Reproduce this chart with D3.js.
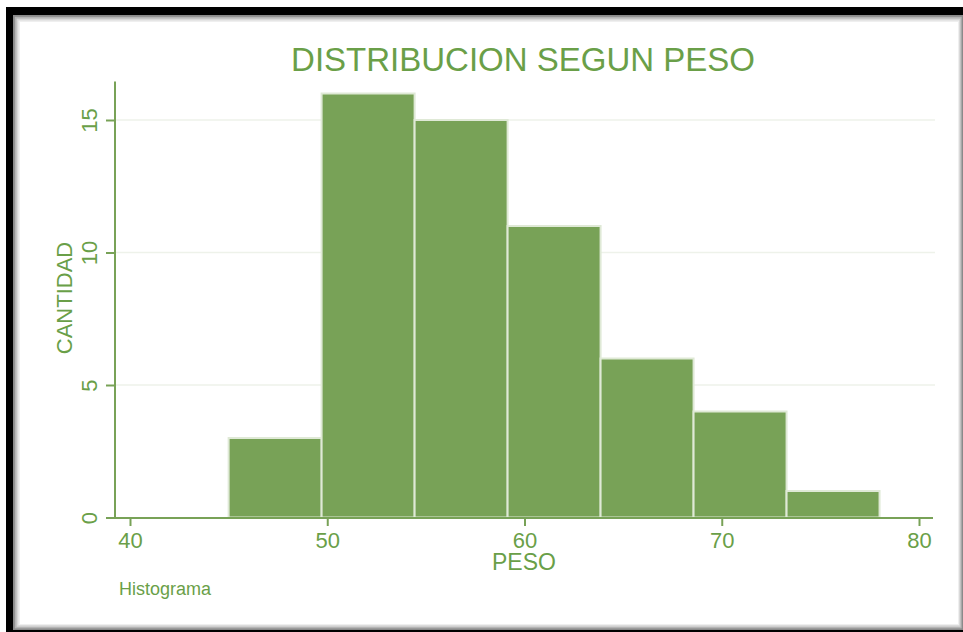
<!DOCTYPE html>
<html>
<head>
<meta charset="utf-8">
<script src="https://cdn.jsdelivr.net/npm/d3@7"></script>
<style>
  body { margin: 0; background: #fff; }
  text { font-family: "Liberation Sans", Arial, sans-serif; }
</style>
</head>
<body>
<script>
// bin edges (min 45, max 78, 7 bins) and counts
var edges = [45, 49.714, 54.429, 59.143, 63.857, 68.571, 73.286, 78]
var counts = [3, 16, 15, 11, 6, 4, 1]
var xTicks = [40, 50, 60, 70, 80]
var yTicks = [0, 5, 10, 15]

const width = 963
const height = 632
const green = "#6a9f48"
const barFill = "#78a257"

var svg = d3.select("body").append("svg").attr("width", width).attr("height", height)

// frame with inner shadow
svg.append("rect").attr("x", 6).attr("y", 7).attr("width", 957).attr("height", 625).attr("fill", "#000")
var shades = ["#8a8a8a", "#b4b4b4", "#d6d6d6", "#efefef"]
shades.forEach(function(c, k) {
    var x0 = 13 + k * 1.8, y0 = 15 + k * 1.8, x1 = 963 - k * 1.3, y1 = 630 - k * 1.6
    svg.append("rect").attr("x", x0).attr("y", y0).attr("width", x1 - x0).attr("height", y1 - y0).attr("fill", c)
})
svg.append("rect").attr("x", 20).attr("y", 22).attr("width", 938).attr("height", 602).attr("fill", "#fff")

var xScale = d3.scaleLinear().domain([40, 80]).range([130, 919])
var yScale = d3.scaleLinear().domain([0, 15]).range([517.5, 120])

var left = xScale.invert(115)
var right = xScale.invert(933)

// gridlines
svg.append("g").selectAll("line").data(yTicks.filter(d => d > 0)).enter().append("line")
    .attr("x1", 115).attr("x2", 935)
    .attr("y1", d => yScale(d)).attr("y2", d => yScale(d))
    .attr("stroke", "#eef2ea").attr("stroke-width", 1.5)

// bars
svg.append("g").selectAll("rect").data(counts).enter().append("rect")
    .attr("x", (d, i) => xScale(edges[i]))
    .attr("width", (d, i) => xScale(edges[i + 1]) - xScale(edges[i]))
    .attr("y", d => yScale(d))
    .attr("height", d => yScale(0) - yScale(d))
    .attr("fill", barFill)
    .attr("stroke", "#dfe9d6")
    .attr("stroke-width", 2)

// y axis
var yAxis = svg.append("g").attr("transform", "translate(115,0)")
    .call(d3.axisLeft(yScale).tickValues(yTicks).tickSize(9).tickSizeOuter(0))
yAxis.select(".domain").attr("d", "M0," + yScale(16.45) + "V" + yScale(0))
yAxis.selectAll("line, path").attr("stroke", barFill).attr("stroke-width", 2)
yAxis.selectAll("text")
    .attr("fill", green).attr("font-size", 22)
    .attr("text-anchor", "middle")
    .attr("x", 0).attr("y", 0).attr("dy", 0)
    .attr("transform", "translate(-18,0) rotate(-90)")

// x axis
var xAxis = svg.append("g").attr("transform", "translate(0,518)")
    .call(d3.axisBottom(xScale).tickValues(xTicks).tickSize(8).tickSizeOuter(0).tickPadding(6))
xAxis.select(".domain").attr("d", "M" + xScale(left) + ",0H" + xScale(right))
xAxis.selectAll("line, path").attr("stroke", barFill).attr("stroke-width", 2)
xAxis.selectAll("text").attr("fill", green).attr("font-size", 22)

// titles
svg.append("text").attr("x", 523).attr("y", 71).attr("text-anchor", "middle")
    .attr("font-size", 33).attr("fill", green).text("DISTRIBUCION SEGUN PESO")
svg.append("text").attr("x", 524).attr("y", 570).attr("text-anchor", "middle")
    .attr("font-size", 23).attr("fill", green).text("PESO")
svg.append("text").attr("transform", "translate(72,298) rotate(-90)").attr("text-anchor", "middle")
    .attr("font-size", 22).attr("fill", green).text("CANTIDAD")
svg.append("text").attr("x", 119).attr("y", 595)
    .attr("font-size", 18).attr("fill", green).text("Histograma")
</script>
</body>
</html>
